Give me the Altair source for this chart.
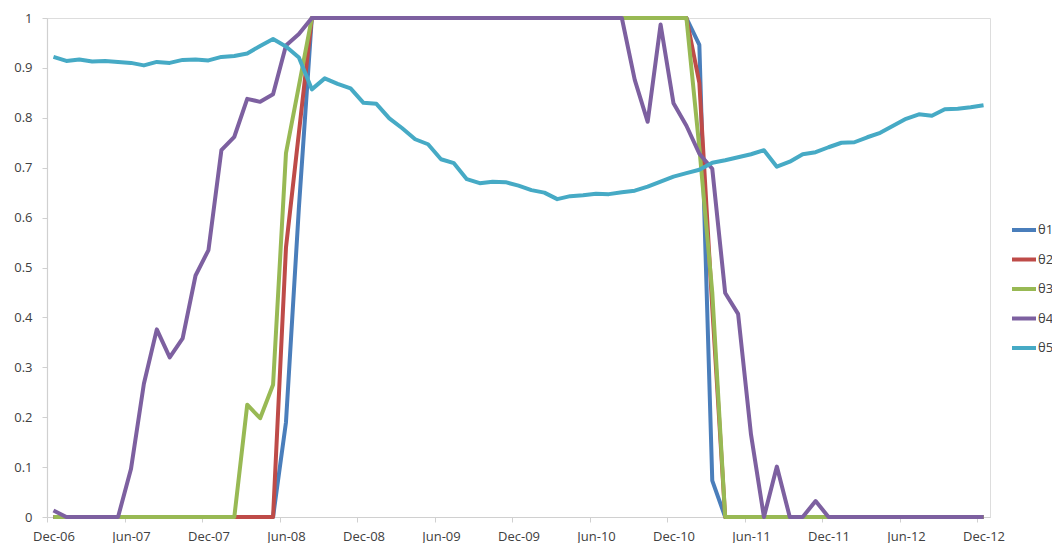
import json
import altair as alt
import pandas as pd

# ---- data (monthly, Dec-06 .. Dec-12, 73 points) ----
tick_labels = ["Dec-06", "Jun-07", "Dec-07", "Jun-08", "Dec-08", "Jun-09", "Dec-09",
               "Jun-10", "Dec-10", "Jun-11", "Dec-11", "Jun-12", "Dec-12"]
series_names = ["θ1", "θ2", "θ3", "θ4", "θ5"]

theta1 = [0, 0, 0, 0, 0, 0, 0, 0, 0, 0, 0, 0, 0, 0, 0, 0, 0, 0, 0.19, 0.62,
          1, 1, 1, 1, 1, 1, 1, 1, 1, 1, 1, 1, 1, 1, 1, 1, 1, 1, 1, 1,
          1, 1, 1, 1, 1, 1, 1, 1, 1, 1, 0.946, 0.073, 0, 0, 0, 0, 0, 0, 0, 0,
          0, 0, 0, 0, 0, 0, 0, 0, 0, 0, 0, 0, 0]
theta2 = [0, 0, 0, 0, 0, 0, 0, 0, 0, 0, 0, 0, 0, 0, 0, 0, 0, 0, 0.54, 0.77,
          1, 1, 1, 1, 1, 1, 1, 1, 1, 1, 1, 1, 1, 1, 1, 1, 1, 1, 1, 1,
          1, 1, 1, 1, 1, 1, 1, 1, 1, 1, 0.87, 0.42, 0, 0, 0, 0, 0, 0, 0, 0,
          0, 0, 0, 0, 0, 0, 0, 0, 0, 0, 0, 0, 0]
theta3 = [0, 0, 0, 0, 0, 0, 0, 0, 0, 0, 0, 0, 0, 0, 0, 0.225, 0.198, 0.265, 0.729, 0.864,
          1, 1, 1, 1, 1, 1, 1, 1, 1, 1, 1, 1, 1, 1, 1, 1, 1, 1, 1, 1,
          1, 1, 1, 1, 1, 1, 1, 1, 1, 1, 0.74, 0.45, 0, 0, 0, 0, 0, 0, 0, 0,
          0, 0, 0, 0, 0, 0, 0, 0, 0, 0, 0, 0, 0]
theta4 = [0.013, 0, 0, 0, 0, 0, 0.096, 0.267, 0.376, 0.32, 0.358, 0.484, 0.535, 0.735, 0.762,
          0.838, 0.832, 0.847, 0.945, 0.968,
          1, 1, 1, 1, 1, 1, 1, 1, 1, 1, 1, 1, 1, 1, 1, 1, 1, 1, 1, 1,
          1, 1, 1, 1, 1, 0.876, 0.792, 0.987, 0.829, 0.784, 0.728, 0.698, 0.449, 0.407, 0.165,
          0, 0.101, 0, 0, 0.032,
          0, 0, 0, 0, 0, 0, 0, 0, 0, 0, 0, 0, 0]
theta5 = [0.922, 0.914, 0.917, 0.913, 0.914, 0.912, 0.910, 0.905, 0.912, 0.910,
          0.916, 0.917, 0.915, 0.922, 0.924, 0.929, 0.944, 0.958, 0.943, 0.921,
          0.857, 0.879, 0.868, 0.859, 0.830, 0.828, 0.799, 0.779, 0.757, 0.747,
          0.717, 0.709, 0.677, 0.669, 0.672, 0.671, 0.664, 0.655, 0.650, 0.637,
          0.643, 0.645, 0.648, 0.647, 0.651, 0.654, 0.662, 0.672, 0.682, 0.689,
          0.696, 0.710, 0.715, 0.721, 0.727, 0.735, 0.702, 0.712, 0.727, 0.731,
          0.741, 0.750, 0.751, 0.761, 0.770, 0.784, 0.798, 0.807, 0.804, 0.817,
          0.818, 0.821, 0.825]
colors = ["#4A7EBB", "#BE4B48", "#98B954", "#7D60A0", "#46AAC5"]

all_series = [theta1, theta2, theta3, theta4, theta5]
rows = []
for name, vals in zip(series_names, all_series):
    for i, v in enumerate(vals):
        rows.append({"idx": i, "value": v, "series": name})
df = pd.DataFrame(rows)

n = len(theta5)
W, H = 943, 499
half = W / n / 2.0
FONT = "Open Sans"
TXT = "#404040"
AX = "#D0D0D0"

labels_js = json.dumps(tick_labels)

chart = alt.Chart(df).mark_line(strokeWidth=4, strokeJoin="round", strokeCap="butt").encode(
    x=alt.X("idx:Q",
            scale=alt.Scale(domain=[-0.5, n - 0.5], nice=False, zero=False),
            axis=alt.Axis(values=[-0.5 + 6 * k for k in range(len(tick_labels))],
                          labelExpr=f"{labels_js}[round((datum.value + 0.5) / 6)]",
                          labelOffset=half, title=None, grid=False,
                          domainColor=AX, tickColor=AX, tickSize=5, domainWidth=1.2,
                          labelFont=FONT, labelFontSize=13, labelColor=TXT,
                          labelPadding=8, labelFlush=False, labelOverlap=False)),
    y=alt.Y("value:Q",
            scale=alt.Scale(domain=[0, 1], nice=False),
            axis=alt.Axis(values=[k / 10 for k in range(11)], format=".1~f",
                          title=None, grid=False, domainColor=AX, tickColor=AX,
                          tickSize=5, domainWidth=1.2,
                          labelFont=FONT, labelFontSize=13, labelColor=TXT,
                          labelPadding=10)),
    color=alt.Color("series:N",
                    scale=alt.Scale(domain=series_names, range=colors),
                    legend=alt.Legend(title=None, orient="none", legendX=963, legendY=198,
                                      symbolType="stroke", symbolSize=576,
                                      symbolStrokeWidth=4, rowPadding=7.5,
                                      labelFont=FONT, labelFontSize=13, labelColor=TXT,
                                      labelOffset=0, padding=0)),
    order=alt.Order("idx:Q"),
).properties(
    width=W, height=H,
    autosize=alt.AutoSizeParams(type="none"),
    padding={"left": 39, "top": 10, "right": 62, "bottom": 26},
).configure_view(stroke=None).configure(background="white")

chart.save("out.html", embed_options={"renderer": "svg", "actions": False})
